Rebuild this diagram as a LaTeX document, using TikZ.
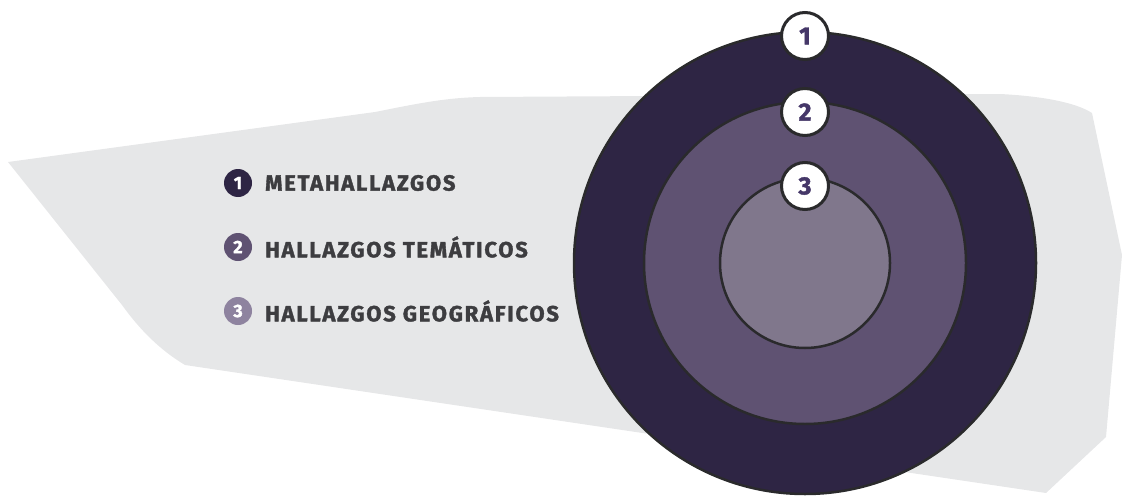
\documentclass[tikz,border=0pt]{standalone}
\usepackage{fontspec}
\setmainfont{Fira Sans}
\newfontfamily\legfont[LetterSpace=8,FakeBold=1.6]{Fira Sans}
\newfontfamily\numfont[FakeBold=1.6]{Fira Sans}
\definecolor{graybg}{HTML}{E6E7E8}
\definecolor{cone}{HTML}{2E2544}
\definecolor{ctwo}{HTML}{5F5272}
\definecolor{cthree}{HTML}{80778C}
\definecolor{bthree}{HTML}{8E839F}
\definecolor{ln}{HTML}{2A2A2C}
\definecolor{txt}{HTML}{3D3D40}
\definecolor{numc}{HTML}{453768}
\begin{document}
\begin{tikzpicture}[x=1pt,y=-1pt,
  ring/.style={circle, draw=ln, line width=2.5pt, inner sep=0pt},
  numcirc/.style={circle, draw=ln, line width=3pt, fill=white, minimum size=47pt, inner sep=0pt, text=numc, font=\numfont\bfseries\fontsize{25}{25}\selectfont},
  bul/.style={circle, minimum size=28pt, inner sep=0pt, text=white, font=\numfont\bfseries\fontsize{18}{18}\selectfont},
  leg/.style={anchor=west, inner sep=0pt, text=txt, font=\legfont\bfseries\fontsize{22}{22}\selectfont}]
\useasboundingbox (0,0) rectangle (1134,495);
\fill[graybg] (8,162) -- (375,112) .. controls (420,103) and (445,98) .. (480,97) -- (1000,94) .. controls (1040,96) and (1075,102) .. (1092,113) -- (1122,255) -- (1106,437) -- (1046,493) -- (185,365) .. controls (160,350) and (140,330) .. (122,305) -- cycle;
\node[ring, fill=cone, minimum size=462pt] (outer) at (805,263) {};
\node[ring, fill=ctwo, minimum size=322pt] (middle) at (805,263) {};
\node[ring, fill=cthree, minimum size=170pt] (inner) at (805,263) {};
\node[numcirc] (n1) at (805,36) {1};
\node[numcirc] (n2) at (805,112) {2};
\node[numcirc] (n3) at (805,186) {3};
\node[bul, fill=cone] (b1) at (238,183) {1};
\node[bul, fill=ctwo] (b2) at (238,247) {2};
\node[bul, fill=bthree] (b3) at (238,311) {3};
\node[leg] (t1) at (265,183) {METAHALLAZGOS};
\node[leg] (t2) at (265,247) {HALLAZGOS TEMÁTICOS};
\node[leg] (t3) at (265,311) {HALLAZGOS GEOGRÁFICOS};
\end{tikzpicture}
\end{document}
